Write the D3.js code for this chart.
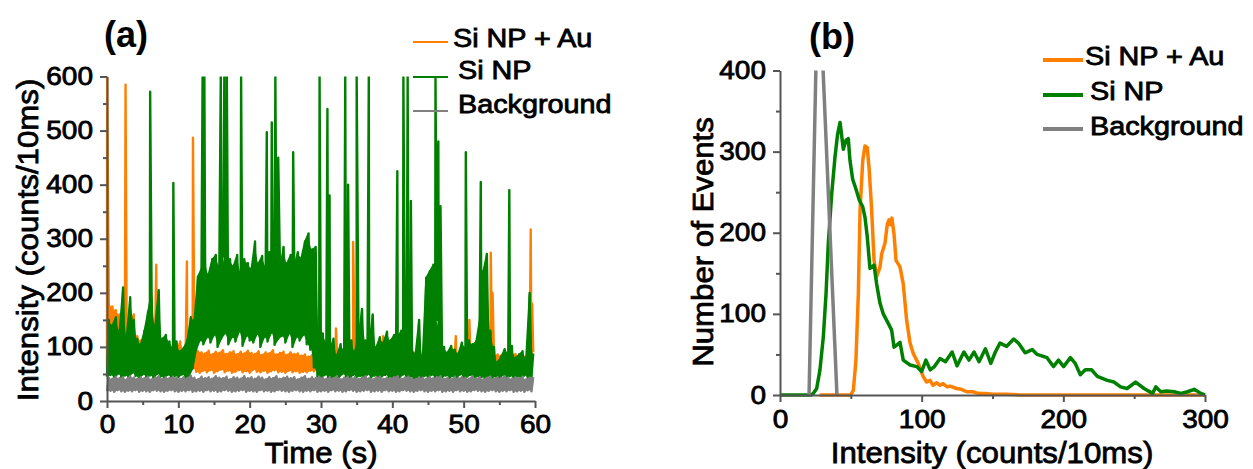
<!DOCTYPE html>
<html lang="en">
<head>
<meta charset="UTF-8">
<title>Si NP time traces and intensity histograms</title>
<script src="https://d3js.org/d3.v7.min.js"></script>
<style>
    body { margin: 0; background: #fff; }
    svg { display: block; font-family: "Liberation Sans", Arial, sans-serif; }
    .axis path, .axis line { stroke: #555; stroke-width: 2px; }
    .axis text { font-size: 25px; fill: #000; stroke: #000; stroke-width: 0.8px; font-family: "Liberation Sans", Arial, sans-serif; }
    .trace { fill: none; stroke-linejoin: round; }
    .title { font-size: 30px; fill: #000; stroke: #000; stroke-width: 0.8px; }
    .panel { font-size: 36px; font-weight: bold; fill: #000; }
    .legend text { font-size: 25px; fill: #000; stroke: #000; stroke-width: 0.8px; }
</style>
</head>
<body>
<svg id="canvas" width="1253" height="469"></svg>
<script>
    // ---- data ----
    const seriesNames = ["Si NP + Au", "Si NP", "Background"];
    const seriesColors = ["#ff8000", "#008000", "#808080"];

    // (a) time traces, read as low / high envelope per 0.5 s bin (120 bins)
    const BIN = 0.5;
    const siAuLow = [62,65,60,68,63,58,66,61,64,59,67,62,60,65,63,58,66,61,64,60,63,67,59,62,
        60,54,52,56,53,57,52,55,58,53,56,52,54,57,53,55,52,58,54,53,56,52,55,57,53,54,52,56,53,55,52,54,53,56,
        55,58,60,57,62,59,56,61,58,60,57,62,59,56,60,58,61,57,59,62,56,60,58,61,57,59,62,58,56,60,
        57,61,59,58,62,56,60,57,59,61,58,56,60,62,57,59,61,58,56,60,57,59,62,58,60,56,61,57,59,58,60,62];
    const siAuHigh = [180,175,168,160,150,140,145,160,120,112,102,106,110,120,112,96,102,95,100,90,110,96,100,95,
        100,92,90,88,93,86,91,89,94,87,90,92,86,91,88,93,89,87,92,85,90,88,94,86,89,91,85,90,87,88,84,86,82,85,
        84,92,88,84,90,86,88,83,90,85,88,86,84,90,87,83,88,85,90,84,86,89,83,87,85,88,84,86,90,83,
        87,85,82,86,84,88,85,83,87,84,86,82,88,85,83,86,84,87,83,85,82,86,84,88,83,85,87,84,86,83,88,90];
    const siAuSpikes = [[0.02,600],[2.6,585],[6.9,252],[11.2,258],[12.05,487],[32.1,134],[34.5,294],
        [38.7,120],[41.6,158],[48.9,120],[50.8,150],[53.8,274],[54.05,200],[59.4,317],[59.6,180]];

    const siLow = [45,48,42,50,44,47,43,52,46,41,49,44,47,42,50,45,43,48,41,46,44,49,42,47,
        60,95,112,105,118,108,122,100,115,125,105,118,110,128,102,120,112,108,124,100,118,110,126,104,115,120,108,125,100,118,112,122,105,95,
        62,45,42,48,44,41,47,43,50,45,42,48,44,46,41,49,43,47,42,45,48,44,41,46,43,49,42,45,40,44,
        42,46,43,48,41,45,44,47,42,46,43,49,41,45,48,42,46,44,41,47,43,45,42,48,44,46,41,45,43,47,42,45];
    const siHigh = [150,140,155,130,210,120,192,150,115,105,130,165,200,140,205,115,122,110,100,110,92,98,112,155,
        150,230,245,260,235,262,270,250,268,245,262,250,270,240,262,255,245,295,255,268,250,275,250,262,245,285,255,270,250,275,265,295,310,280,
        285,110,125,110,95,115,85,105,95,105,112,92,118,170,112,105,160,100,118,108,128,112,122,118,130,112,122,100,88,150,
        82,228,240,252,150,130,100,90,102,95,88,108,100,112,105,110,150,240,272,130,100,72,82,96,90,102,80,86,92,80,200,88];
    const siSpikes = [[6.05,572],[9.3,403],[13.4,600],[13.65,600],[15.95,600],[16.15,340],[16.45,600],[16.8,600],
        [18.8,600],[22.4,497],[23.1,515],[23.6,600],[24.0,450],[26.1,460],[29.8,600],[30.9,540],[31.2,380],
        [33.4,600],[33.8,400],[35.0,600],[36.7,600],[40.7,425],[41.55,600],[42.15,600],[42.6,370],[46.05,600],
        [46.45,480],[46.75,360],[50.3,460],[52.4,405],[56.4,390]];

    const bgLow = [18,19,17,20,18,17,19,18,20,17,19,18,17,20,19,18,17,19,20,18,
        17,19,18,20,17,18,19,17,20,18,19,17,18,20,19,17,18,19,20,17,
        19,18,17,20,18,19,17,18,20,19,18,17,19,20,18,17,19,18,20,17,
        18,19,17,20,18,19,17,18,20,19,17,18,19,20,17,18,19,17,20,18,
        19,17,18,20,19,18,17,19,20,18,17,19,18,20,17,18,19,17,20,18,
        19,17,18,20,19,18,17,19,20,18,17,19,18,20,17,18,19,17,20,18];
    const bgHigh = [43,41,45,42,44,40,46,43,41,44,42,45,40,43,46,41,44,42,45,43,
        41,44,42,47,43,40,45,42,44,41,46,43,42,45,40,44,43,41,46,42,
        44,41,45,43,40,44,42,46,41,43,45,42,44,40,43,46,41,44,42,45,
        43,41,44,42,46,40,43,45,42,44,41,43,46,42,40,44,45,41,43,42,
        44,46,41,43,45,42,40,44,43,41,45,42,44,46,41,43,40,45,42,44,
        43,41,46,42,44,40,43,45,41,44,42,46,43,41,44,42,45,40,43,44];

    // (b) histograms: [intensity, number of events]
    const siAuHist = [[28,0],[50,0],[51.8,6],[53.6,43],[55.3,125],[56.5,228],[58.4,289],[60,307],[61.6,305],
        [63,277],[64.7,228],[66.4,166],[68.2,146],[70.6,158],[71.8,174],[74.1,187],[75.8,211],[77,216],[78,210],
        [79,218],[80.5,198],[81.9,166],[84.7,158],[87,137],[89.4,92],[91.8,64],[94.1,51],[97.6,39],[101,23],
        [103.5,16],[105.9,18],[108,12],[110.6,15],[113,12],[115,14],[118,10],[120,11],[124.7,8],[128,7],
        [131.8,4],[136,4],[140,2],[145,2],[150,1],[160,1],[170,0],[300,0]];
    const siHist = [[0,0],[22,0],[23.5,2],[25.9,8],[28.2,31],[30.6,72],[32.5,125],[34.1,187],[36.5,248],
        [38.8,293],[40.7,322],[42.4,336],[44.7,303],[46.6,314],[48.2,316],[49.4,289],[51.3,266],[53.6,254],
        [56,240],[58.4,232],[60,219],[61.6,195],[63.5,156],[65,158],[66.4,160],[68.2,137],[70.6,113],
        [72.9,100],[76.5,88],[78.8,80],[80.5,59],[82.8,62],[84.7,65],[87,43],[91.8,37],[96.5,35],[100,29],
        [103,43],[106,31],[109,35],[113,45],[116.8,41],[121.5,53],[125,36],[129.8,53],[133.4,43],[137,53],
        [140.5,41],[145,57],[148.8,39],[152,53],[155.3,64],[160,60],[165,69],[168.3,64],[173,52],[178,56],
        [181.5,50],[188.5,46],[193,35],[196.6,43],[200.2,35],[205,46],[208.4,39],[212,25],[215.5,31],
        [220,31],[224,23],[231,18],[235.7,16],[240.4,10],[245,8],[251,16],[257,8],[263,2],[265.3,10],
        [268.8,4],[273,5],[278.2,4],[283,2],[287.6,4],[292.4,7],[297,2],[300,0]];
    const bgHist = [[20.5,0],[27,540],[40.2,0]];

    const timeTicks = [0,10,20,30,40,50,60];
    const traceTicks = [0,100,200,300,400,500,600];
    const intensityTicks = [0,100,200,300];
    const eventTicks = [0,100,200,300,400];

    // ---- helpers ----
    const svg = d3.select("svg");
    svg.append("rect").attr("width", 1253).attr("height", 469).attr("fill", "#fff");

    function widen(sel, k) {
        sel.each(function () {
            let len = this.getComputedTextLength();
            d3.select(this).attr("textLength", len * k).attr("lengthAdjust", "spacingAndGlyphs");
        });
    }
    function mids(t) { return d3.pairs(t).map(p => (p[0] + p[1]) / 2); }

    function tracePoints(lo, hi, spikes) {
        let pts = [];
        lo.forEach((v, i) => {
            pts.push([i * BIN, v]);
            pts.push([i * BIN + BIN / 2, hi[i]]);
        });
        spikes.forEach(s => pts.push(s));
        return pts.sort((a, b) => a[0] - b[0]);
    }

    function axes(x, y, xt, yt, xPad) {
        let gx = svg.append("g").attr("class", "axis")
            .attr("transform", "translate(0," + y.range()[0] + ")")
            .call(d3.axisBottom(x).tickValues(xt).tickSize(7).tickSizeOuter(0).tickPadding(xPad));
        svg.append("g").attr("class", "axis")
            .attr("transform", "translate(0," + y.range()[0] + ")")
            .call(d3.axisBottom(x).tickValues(mids(xt)).tickSize(4).tickFormat(""))
            .select(".domain").remove();
        let gy = svg.append("g").attr("class", "axis")
            .attr("transform", "translate(" + x.range()[0] + ",0)")
            .call(d3.axisLeft(y).tickValues(yt).tickSize(7).tickSizeOuter(0).tickPadding(7));
        svg.append("g").attr("class", "axis")
            .attr("transform", "translate(" + x.range()[0] + ",0)")
            .call(d3.axisLeft(y).tickValues(mids(yt)).tickSize(4).tickFormat(""))
            .select(".domain").remove();
        widen(gx.selectAll("text"), 1.12);
        widen(gy.selectAll("text"), 1.12);
    }

    function clip(id, x, y) {
        svg.append("clipPath").attr("id", id).append("rect")
            .attr("x", x.range()[0] - 2).attr("y", y.range()[1])
            .attr("width", x.range()[1] - x.range()[0] + 4)
            .attr("height", y.range()[0] - y.range()[1] + 3);
    }

    function legend(x0, rows, lineW, width) {
        let g = svg.append("g").attr("class", "legend");
        seriesNames.forEach((name, i) => {
            g.append("line")
                .attr("x1", x0).attr("x2", x0 + width)
                .attr("y1", rows[i].line).attr("y2", rows[i].line)
                .attr("stroke", seriesColors[i]).attr("stroke-width", lineW);
            let t = g.append("text")
                .attr("x", rows[i].tx).attr("y", rows[i].base)
                .text(name);
            widen(t, 1.15);
        });
    }

    // ---- panel (a) ----
    let xa = d3.scaleLinear().domain([0, 60]).range([107, 535]);
    let ya = d3.scaleLinear().domain([0, 600]).range([401, 76.5]);
    clip("clipA", xa, ya);
    let lineA = d3.line().x(d => xa(d[0])).y(d => ya(d[1]));
    // filled envelope under each trace so the dense signal reads as a band
    let bandA = d3.area()
        .x((d, i) => xa(i * BIN + BIN / 4))
        .y0(d => ya(d[0])).y1(d => ya(d[1]));
    let envelopes = [
        [siAuLow, siAuHigh, siAuSpikes],
        [siLow, siHigh, siSpikes],
        [bgLow, bgHigh, []]
    ];
    let ga = svg.append("g").attr("clip-path", "url(#clipA)");
    envelopes.forEach((e, i) => {
        ga.append("path")
            .attr("d", bandA(e[0].map((v, j) => [v, e[1][j]])))
            .attr("fill", seriesColors[i]);
        ga.append("path").attr("class", "trace")
            .attr("d", lineA(tracePoints(e[0], e[1], e[2])))
            .attr("stroke", seriesColors[i])
            .attr("stroke-width", 2.4);
    });
    axes(xa, ya, timeTicks, traceTicks, 7);

    // ---- panel (b) ----
    let xb = d3.scaleLinear().domain([0, 300]).range([780, 1205]);
    let yb = d3.scaleLinear().domain([0, 400]).range([395, 70.5]);
    clip("clipB", xb, yb);
    let lineB = d3.line().x(d => xb(d[0])).y(d => yb(d[1]));
    let gb = svg.append("g").attr("clip-path", "url(#clipB)");
    [siAuHist, siHist, bgHist].forEach((h, i) => {
        gb.append("path").attr("class", "trace")
            .attr("d", lineB(h))
            .attr("stroke", seriesColors[i])
            .attr("stroke-width", 3.5);
    });
    axes(xb, yb, intensityTicks, eventTicks, 8);

    // ---- titles ----
    let titles = [
        {t: "Intensity (counts/10ms)", tr: "translate(38,240) rotate(-90)"},
        {t: "Time (s)", tr: "translate(321,463)"},
        {t: "Number of Events", tr: "translate(713,242) rotate(-90)"},
        {t: "Intensity (counts/10ms)", tr: "translate(992,463)"}
    ];
    titles.forEach(d => {
        let t = svg.append("text").attr("class", "title")
            .attr("text-anchor", "middle")
            .attr("transform", d.tr)
            .text(d.t);
        widen(t, 1.04);
    });
    svg.append("text").attr("class", "panel").attr("x", 126).attr("y", 47)
        .attr("text-anchor", "middle").text("(a)");
    svg.append("text").attr("class", "panel").attr("x", 832).attr("y", 49)
        .attr("text-anchor", "middle").text("(b)");

    // ---- legends ----
    legend(413, [
        {line: 42, tx: 453, base: 47},
        {line: 77, tx: 458, base: 79},
        {line: 111, tx: 458, base: 113}
    ], 2, 35);
    legend(1043, [
        {line: 60, tx: 1085, base: 65},
        {line: 95, tx: 1090, base: 100},
        {line: 129, tx: 1090, base: 135}
    ], 4, 40);
</script>
</body>
</html>
